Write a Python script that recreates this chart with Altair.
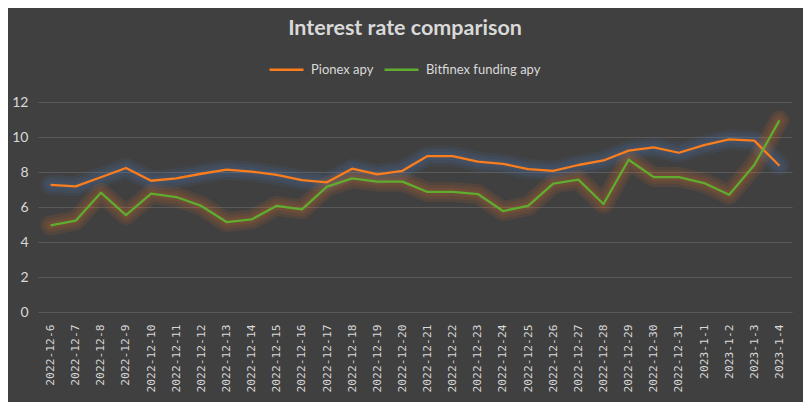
import altair as alt
import pandas as pd

dates = ["2022-12-6", "2022-12-7", "2022-12-8", "2022-12-9", "2022-12-10", "2022-12-11",
         "2022-12-12", "2022-12-13", "2022-12-14", "2022-12-15", "2022-12-16", "2022-12-17",
         "2022-12-18", "2022-12-19", "2022-12-20", "2022-12-21", "2022-12-22", "2022-12-23",
         "2022-12-24", "2022-12-25", "2022-12-26", "2022-12-27", "2022-12-28", "2022-12-29",
         "2022-12-30", "2022-12-31", "2023-1-1", "2023-1-2", "2023-1-3", "2023-1-4"]

pionex = [7.27, 7.18, 7.70, 8.23, 7.50, 7.64, 7.90, 8.13, 8.02, 7.83, 7.54, 7.41,
          8.19, 7.87, 8.07, 8.91, 8.91, 8.59, 8.47, 8.17, 8.07, 8.40, 8.66, 9.22,
          9.41, 9.10, 9.54, 9.86, 9.79, 8.36]

bitfinex = [4.95, 5.22, 6.82, 5.54, 6.76, 6.57, 6.06, 5.14, 5.29, 6.07, 5.86, 7.16,
            7.64, 7.45, 7.45, 6.86, 6.86, 6.74, 5.77, 6.06, 7.33, 7.56, 6.17, 8.70,
            7.71, 7.71, 7.37, 6.70, 8.40, 10.95]

series_names = ["Pionex apy", "Bitfinex funding apy"]
line_colors = ["#fb7d1c", "#5fac2f"]
glow_colors = ["#4a7fc0", "#e8782c"]

rows = []
for d, a, b in zip(dates, pionex, bitfinex):
    rows.append({"date": d, "series": series_names[0], "value": a})
    rows.append({"date": d, "series": series_names[1], "value": b})
df = pd.DataFrame(rows)

x_enc = alt.X("date:O", sort=dates, title=None,
              axis=alt.Axis(labelAngle=270, labelFont="DejaVu Sans Mono", labelFontSize=11.3,
                            labelColor="#d9d9d9", labelPadding=12, ticks=False, domain=False,
                            grid=False, labelOverlap=False))
y_enc = alt.Y("value:Q", title=None,
              scale=alt.Scale(domain=[0, 12], nice=False),
              axis=alt.Axis(values=[0, 2, 4, 6, 8, 10, 12], labelFont="Lato", labelFontSize=14,
                            labelColor="#d9d9d9", labelPadding=10, ticks=False, domain=False,
                            grid=True, gridColor="#5a5a5a", gridWidth=1))

base = alt.Chart(df)

layers = []
for name, gc in zip(series_names, glow_colors):
    for w in (20, 14, 8):
        layers.append(
            base.transform_filter(alt.datum.series == name)
            .mark_line(strokeWidth=w, opacity=0.1, strokeCap="round", strokeJoin="round",
                       color=gc)
            .encode(x=x_enc, y=y_enc)
        )

for name in series_names:
    layers.append(
        base.transform_filter(alt.datum.series == name)
        .mark_line(strokeWidth=2.3, strokeJoin="round")
        .encode(
            x=x_enc, y=y_enc,
            color=alt.Color("series:N",
                            scale=alt.Scale(domain=series_names, range=line_colors),
                            legend=alt.Legend(title=None, orient="none", direction="horizontal",
                                              legendX=230, legendY=-51,
                                              symbolType="stroke", symbolSize=1156,
                                              symbolStrokeWidth=2.3, labelFont="Lato",
                                              labelFontSize=13, labelColor="#d9d9d9",
                                              labelOffset=6, columnPadding=5)),
        )
    )

chart = alt.layer(*layers).properties(
    width=754, height=210,
    autosize=alt.AutoSizeParams(type="none"),
    padding={"left": 30, "top": 94, "right": 11, "bottom": 90},
    background="#404040",
    title=alt.TitleParams("Interest rate comparison", font="Lato", fontSize=21.5,
                          fontWeight="bold", color="#d9d9d9", anchor="middle",
                          frame="group", baseline="alphabetic", offset=15, dx=-10, dy=20),
).configure_view(stroke=None)

chart.save("out.html", embed_options={"renderer": "svg", "actions": False})
